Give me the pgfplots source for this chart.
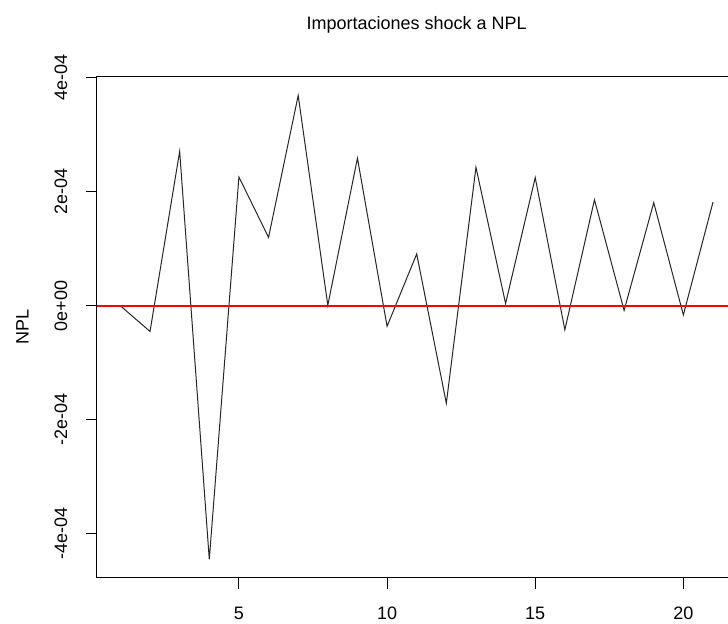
\documentclass[border=0pt]{standalone}
\usepackage{xcolor}
\usepackage{pgfplots}
\pgfplotsset{compat=1.18}
\usepackage{fontspec}
\setmainfont{Liberation Sans}
\definecolor{rred}{RGB}{255,0,0}
\begin{document}
\fontsize{9}{11}\selectfont
\begin{tikzpicture}
\useasboundingbox (0,0) rectangle (364pt,312pt);
\begin{scope}
\clip (0,0) rectangle (364pt,312pt);
\begin{axis}[
  at={(48.35pt,23.15pt)}, anchor=south west,
  scale only axis, width=320pt, height=250.5pt,
  xmin=0.2, xmax=21.8, ymin=-4.77e-4, ymax=4.02e-4,
  scaled y ticks=false, scaled x ticks=false,
  axis line style={black, line width=0.5pt},
  tick style={black, line width=0.5pt},
  tick align=outside, major tick length=5.5pt,
  xtick pos=bottom, ytick pos=left,
  xtick={5,10,15,20}, xticklabels={5,10,15,20},
  ytick={-4e-4,-2e-4,0,2e-4,4e-4},
  yticklabels={-4e-04,-2e-04,0e+00,2e-04,4e-04},
  xticklabel style={anchor=north, inner sep=0pt},
  yticklabel style={rotate=90, anchor=south, inner sep=0pt},
  xticklabel shift=9pt, yticklabel shift=9pt,
  title={Importaciones shock a NPL},
  title style={at={(0.5,1)}, anchor=base, yshift=17.6pt, inner sep=0pt},
  ylabel={NPL},
  every axis y label/.style={at={(axis description cs:0,0.5)}, xshift=-34pt, rotate=90, anchor=base, inner sep=0pt},
  clip=true,
]
\addplot[color=black!85, line width=0.5pt, mark=none] coordinates {
(1,0) (2,-0.45e-4) (3,2.71e-4) (4,-4.45e-4) (5,2.26e-4) (6,1.20e-4) (7,3.69e-4)
(8,0.01e-4) (9,2.59e-4) (10,-0.36e-4) (11,0.91e-4) (12,-1.71e-4) (13,2.43e-4)
(14,0.04e-4) (15,2.25e-4) (16,-0.42e-4) (17,1.86e-4) (18,-0.08e-4) (19,1.81e-4)
(20,-0.16e-4) (21,1.82e-4)};
\addplot[color=rred, line width=0.8pt, mark=none] coordinates {(0.2,0) (21.8,0)};
\end{axis}
\end{scope}
\end{tikzpicture}
\end{document}
